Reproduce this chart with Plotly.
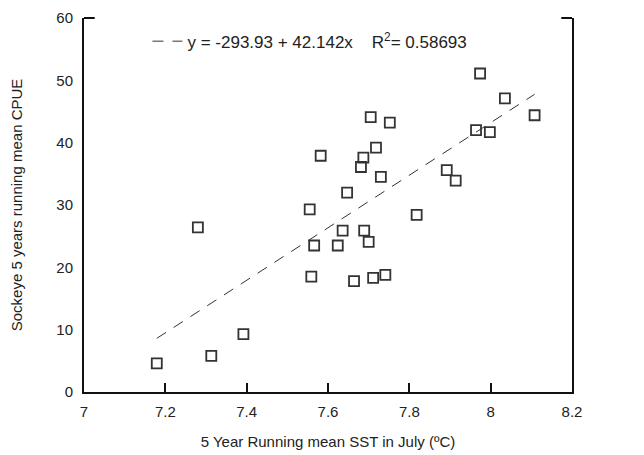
import plotly.graph_objects as go

# Data
sst = [7.179, 7.313, 7.392, 7.280, 7.555, 7.566, 7.559, 7.582, 7.624, 7.636,
       7.647, 7.664, 7.681, 7.687, 7.689, 7.700, 7.705, 7.711, 7.718, 7.730,
       7.741, 7.752, 7.818, 7.892, 7.914, 7.964, 7.974, 7.998, 8.035, 8.108]
cpue = [4.6, 5.8, 9.3, 26.4, 29.3, 23.5, 18.5, 37.9, 23.5, 25.9,
        32.0, 17.8, 36.1, 37.6, 25.9, 24.1, 44.1, 18.3, 39.2, 34.5,
        18.8, 43.2, 28.4, 35.6, 33.9, 42.0, 51.1, 41.7, 47.1, 44.4]

intercept = -293.93
slope = 42.142
r2 = 0.58693

x_ticks = [7, 7.2, 7.4, 7.6, 7.8, 8, 8.2]
x_tick_text = ["7", "7.2", "7.4", "7.6", "7.8", "8", "8.2"]
y_ticks = [0, 10, 20, 30, 40, 50, 60]

fit_x = [min(sst), max(sst)]
fit_y = [intercept + slope * v for v in fit_x]

gap = "&nbsp;" * 4
fig = go.Figure()
fig.add_trace(go.Scatter(
    x=fit_x, y=fit_y, mode="lines",
    line=dict(color="#333333", width=1, dash="11px,9px"),
    name="y = %.2f + %.3fx%sR<sup>2</sup>= %.5f" % (intercept, slope, gap, r2),
    showlegend=True,
))
fig.add_trace(go.Scatter(
    x=sst, y=cpue, mode="markers",
    marker=dict(symbol="square-open", size=10, color="#333333",
                line=dict(width=1.8, color="#333333")),
    showlegend=False,
))

font_family = "Liberation Sans, Arial, sans-serif"
frame = "#111111"
fig.update_layout(
    width=644, height=455,
    margin=dict(l=76, r=80, t=10, b=71),
    paper_bgcolor="white", plot_bgcolor="white",
    font=dict(family=font_family, size=14, color="#222222"),
    xaxis=dict(
        range=[7, 8.2], tickvals=x_ticks, ticktext=x_tick_text,
        showgrid=False, zeroline=False, automargin=False,
        showline=True, linecolor=frame, linewidth=2,
        ticks="inside", ticklen=9, tickwidth=2, tickcolor=frame,
        ticklabelstandoff=5, tickfont=dict(size=15),
        title=dict(text="5 Year Running mean SST in July (ºC)",
                   font=dict(size=15), standoff=17),
    ),
    yaxis=dict(
        range=[0, 60], tickvals=y_ticks,
        showgrid=False, zeroline=False, automargin=False,
        showline=True, linecolor=frame, linewidth=2, mirror=True,
        ticks="", ticklabelstandoff=6, tickfont=dict(size=15),
        title=dict(text="Sockeye 5 years running mean CPUE",
                   font=dict(size=15), standoff=30),
    ),
    shapes=[
        dict(type="line", xref="x domain", yref="y domain",
             x0=0, x1=0.022, y0=1, y1=1, line=dict(color=frame, width=2)),
        dict(type="line", xref="x domain", yref="y domain",
             x0=0.978, x1=1, y0=1, y1=1, line=dict(color=frame, width=2)),
    ],
    legend=dict(x=0.13, y=0.985, xanchor="left", yanchor="top",
                bgcolor="rgba(0,0,0,0)", font=dict(size=17),
                itemwidth=30),
    showlegend=True,
)

fig.write_html("out.html")
